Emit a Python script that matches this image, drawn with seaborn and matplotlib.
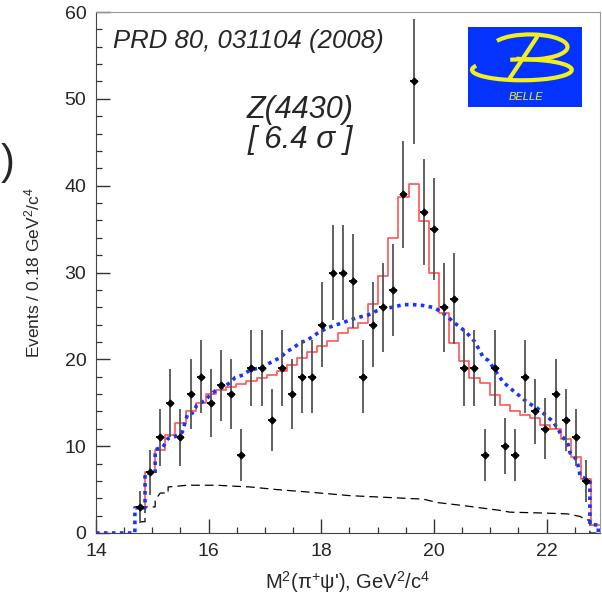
import numpy as np
import pandas as pd
import matplotlib
matplotlib.use("Agg")
import matplotlib.pyplot as plt
from matplotlib.patches import Rectangle, Arc
from matplotlib.ticker import MultipleLocator
import seaborn as sns

# bin centres of M^2(pi+ psi'), GeV^2/c^4, bins are 0.18 wide
bin_centers = [14.78, 14.96, 15.14, 15.32, 15.50, 15.68, 15.86, 16.04, 16.22, 16.40,
               16.58, 16.76, 16.94, 17.12, 17.30, 17.48, 17.66, 17.84, 18.02, 18.20,
               18.38, 18.56, 18.74, 18.92, 19.10, 19.28, 19.46, 19.64, 19.82, 20.00,
               20.18, 20.36, 20.54, 20.72, 20.90, 21.08, 21.26, 21.44, 21.62, 21.80,
               21.98, 22.16, 22.34, 22.52, 22.70]
events = [3, 7, 11, 15, 11, 16, 18, 15, 17, 16,
          9, 19, 19, 13, 19, 16, 18, 18, 24, 30,
          30, 29, 18, 24, 26, 28, 39, 52, 37, 35,
          26, 27, 19, 19, 9, 19, 10, 9, 18, 14,
          12, 16, 13, 11, 6]
event_err = [1.8, 2.6, 3.3, 3.9, 3.3, 4.0, 4.2, 3.9, 4.1, 4.0,
             3.0, 4.4, 4.4, 3.6, 4.4, 4.0, 4.2, 4.2, 4.9, 5.5,
             5.5, 5.4, 4.2, 4.9, 5.1, 5.3, 6.2, 7.2, 6.1, 5.9,
             5.1, 5.2, 4.4, 4.4, 3.0, 4.4, 3.2, 3.0, 4.2, 3.7,
             3.5, 4.0, 3.6, 3.3, 2.4]

# fit with Z(4430) (red histogram), one extra partial bin at the kinematic edge
fit_centers = bin_centers + [22.88]
fit_total = [3.0, 7.0, 9.6, 11.3, 12.7, 14.0, 15.0, 16.0, 16.5, 16.8,
             17.2, 17.5, 17.9, 18.2, 18.6, 19.4, 20.1, 20.8, 21.5, 22.1,
             23.0, 23.6, 24.2, 26.4, 29.6, 34.0, 38.7, 40.2, 35.9, 30.0,
             25.3, 21.9, 19.8, 17.8, 17.3, 15.9, 14.7, 14.0, 13.6, 13.2,
             12.4, 12.0, 10.8, 8.8, 6.2, 0.9]

# fit without Z(4430) (blue dotted)
noz_x = [14.0, 14.69, 14.69, 14.87, 14.87, 15.05, 15.05, 15.19, 15.28, 15.40,
         15.53, 15.58, 15.63, 15.71, 15.79, 15.94, 16.06, 16.15, 16.26, 16.38,
         16.47, 16.61, 16.74, 16.91, 17.09, 17.27, 17.39, 17.50, 17.62, 17.75,
         17.93, 18.10, 18.28, 18.46, 18.64, 18.83, 18.99, 19.13, 19.28, 19.45,
         19.63, 19.81, 19.97, 20.07, 20.16, 20.25, 20.34, 20.47, 20.59, 20.73,
         20.87, 20.96, 21.05, 21.14, 21.23, 21.35, 21.50, 21.67, 21.83, 21.98,
         22.12, 22.21, 22.28, 22.37, 22.42, 22.54, 22.60, 22.77, 22.77, 22.92,
         22.92, 23.05]
noz_y = [0, 0, 2.9, 2.9, 6.9, 6.9, 9.6, 9.9, 10.9, 11.1,
         11.6, 12.7, 13.8, 13.8, 14.7, 15.3, 16.1, 16.5, 16.8, 17.3,
         17.9, 18.2, 18.8, 19.0, 19.6, 20.2, 20.9, 21.3, 21.9, 22.2,
         23.0, 23.6, 24.0, 24.4, 24.8, 25.1, 25.6, 25.9, 26.0, 26.3,
         26.3, 26.2, 26.0, 25.7, 25.3, 24.9, 24.3, 23.7, 23.0, 22.0,
         20.3, 19.9, 19.1, 18.2, 17.4, 16.7, 15.9, 15.0, 14.4, 13.6,
         12.8, 11.9, 11.1, 10.5, 9.2, 8.4, 6.5, 6.1, 1.0, 0.9,
         0, 0]

# background (black dashed)
bkg_x = [14.78, 14.87, 14.87, 15.05, 15.05, 15.14, 15.28, 15.28, 15.62, 16.15,
         16.43, 16.74, 17.21, 17.80, 18.16, 18.51, 19.81, 20.07, 20.47, 21.18,
         21.35, 21.94, 22.37, 22.60, 22.69, 22.77, 22.77, 22.92]
bkg_y = [1.3, 1.3, 3.0, 3.0, 3.8, 4.6, 4.6, 5.3, 5.5, 5.5,
         5.4, 5.3, 5.0, 4.7, 4.5, 4.3, 3.9, 3.5, 3.2, 2.6,
         2.4, 2.3, 2.2, 1.9, 1.5, 1.5, 0, 0]

sns.set_style("ticks")
plt.rcParams['font.family'] = ['Liberation Sans', 'DejaVu Sans']
plt.rcParams['mathtext.fontset'] = 'custom'
plt.rcParams['mathtext.rm'] = 'Liberation Sans'
plt.rcParams['mathtext.it'] = 'Liberation Sans:italic'

fig = plt.figure(figsize=(6.02, 5.98), dpi=100)
ax = fig.add_axes([0.1595, 0.1087, 0.8372, 0.8712])

fit_df = pd.DataFrame({'m2': fit_centers, 'n': fit_total})
edges = [float(c) - 0.09 for c in fit_centers] + [fit_centers[-1] + 0.09]
sns.histplot(data=fit_df, x='m2', weights='n', bins=edges, element='step',
             fill=False, color='#ff5555', linewidth=1.2, ax=ax, zorder=2)
sns.lineplot(x=noz_x, y=noz_y, sort=False, estimator=None, color='#1a33ff',
             linewidth=2.6, linestyle=(0, (1, 1.2)), ax=ax, zorder=3)
sns.lineplot(x=bkg_x, y=bkg_y, sort=False, estimator=None, color='black',
             linewidth=0.9, linestyle=(0, (7, 4)), ax=ax, zorder=2)

# data points
ax.errorbar(bin_centers, events, yerr=event_err, fmt='none', ecolor='#555555',
            elinewidth=1.3, capsize=0, zorder=4)
ax.errorbar(bin_centers, events, xerr=0.07, fmt='none', ecolor='black',
            elinewidth=1.3, capsize=0, zorder=5)
sns.scatterplot(x=bin_centers, y=events, color='black', marker='D', s=14,
                edgecolor='black', linewidth=0.5, ax=ax, zorder=6)

ax.set_xlim(14, 22.95)
ax.set_ylim(0, 60)
ax.set_xticks([14, 16, 18, 20, 22])
ax.set_yticks([0, 10, 20, 30, 40, 50, 60])
ax.xaxis.set_minor_locator(MultipleLocator(0.5))
ax.yaxis.set_minor_locator(MultipleLocator(2))
ax.tick_params(which='major', direction='in', length=10, width=1, labelsize=14,
               pad=7, color='#333333', top=False, right=False)
ax.tick_params(which='minor', direction='in', length=4.5, width=0.9,
               color='#333333', top=False, right=False)
for side in ['left', 'bottom']:
    ax.spines[side].set_color('#444444')
for side in ['top', 'right']:
    ax.spines[side].set_color('#999999')

ax.set_xlabel("M$^{2}$(π$^{+}$ψ'), GeV$^{2}$/c$^{4}$", fontsize=14.5)
ax.xaxis.set_label_coords(0.5, -0.07)
ax.set_ylabel("Events / 0.18 GeV$^{2}$/c$^{4}$", fontsize=12.5)
ax.yaxis.set_label_coords(-0.107, 0.5)

ax.text(0.034, 0.931, "PRD 80, 031104 (2008)", style='italic', fontsize=18.5,
        transform=ax.transAxes, va='baseline', ha='left')
ax.text(0.405, 0.797, "Z(4430)", style='italic', fontsize=22,
        transform=ax.transAxes, va='baseline', ha='center')
ax.text(0.405, 0.739, "[ 6.4 σ ]", style='italic', fontsize=22.5,
        transform=ax.transAxes, va='baseline', ha='center')

# Belle logo
yel = '#f2f01e'
ax.add_patch(Rectangle((0.738, 0.818), 0.226, 0.153, transform=ax.transAxes,
                       facecolor='#0433ff', edgecolor='none', zorder=7))
ax.add_patch(Arc((0.845, 0.889), 0.198, 0.040, theta1=175, theta2=500,
                 transform=ax.transAxes, color=yel, lw=3, zorder=8))
ax.add_patch(Arc((0.861, 0.933), 0.149, 0.048, theta1=-140, theta2=170,
                 transform=ax.transAxes, color=yel, lw=3, zorder=8))
ax.plot([0.875, 0.821], [0.952, 0.873], transform=ax.transAxes, color=yel,
        lw=3, zorder=8)
ax.text(0.853, 0.837, "BELLE", style='italic', fontsize=8, color=yel,
        transform=ax.transAxes, ha='center', va='center', zorder=8)

# leftover bracket from the neighbouring panel
fig.text(0.001, 0.728, ")", fontsize=30, ha='left', va='center')

fig.savefig('out.png', dpi=100)
